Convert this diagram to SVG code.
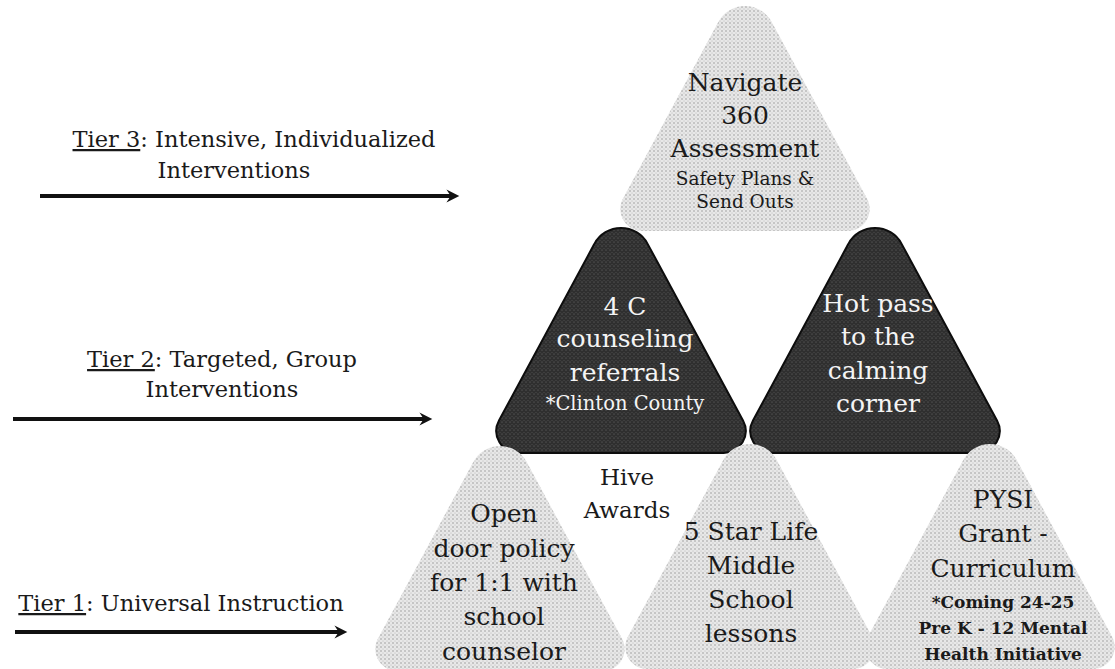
<svg xmlns="http://www.w3.org/2000/svg" width="1115" height="669" viewBox="0 0 1115 669">
  <defs>
    <!-- stippled light fill -->
    <pattern id="stipple" width="4" height="4" patternUnits="userSpaceOnUse">
      <rect width="4" height="4" fill="#e8e8e8"/>
      <circle cx="1" cy="1" r="0.7" fill="#8a8a8a"/>
      <circle cx="3" cy="3" r="0.55" fill="#b4b4b4"/>
    </pattern>
    <!-- speckled dark fill -->
    <pattern id="speckle" width="4" height="4" patternUnits="userSpaceOnUse">
      <rect width="4" height="4" fill="#2f2f2f"/>
      <circle cx="1" cy="2" r="0.6" fill="#6e6e6e"/>
      <circle cx="3" cy="0.5" r="0.5" fill="#555"/>
    </pattern>
    <!-- rounded triangle, apex at origin, base at y=225 -->
    <path id="tri" d="M -26.6,15.85 A 30.2 30.2 0 0 1 26.6,15.85 L 122,192.5 A 22 22 0 0 1 102.6,225 L -102.6,225 A 22 22 0 0 1 -122,192.5 Z"/>
    <marker id="head" viewBox="0 0 14 14" refX="9" refY="7" markerWidth="15" markerHeight="15" markerUnits="userSpaceOnUse" orient="auto">
      <path d="M 1,1 L 13,7 L 1,13 L 5,7 Z" fill="#111"/>
    </marker>
    <style>
      .light { fill: url(#stipple); }
      .dark { fill: url(#speckle); stroke: #0d0d0d; stroke-width: 2; }
      text { font-family: "DejaVu Serif", "Liberation Serif", serif; text-anchor: middle; }
      .big { font-size: 25px; fill: #1a1a1a; }
      .wbig { font-size: 25px; fill: #f4f4f4; }
      .small { font-size: 18.5px; fill: #1a1a1a; }
      .wsmall { font-size: 19.5px; fill: #f4f4f4; }
      .bsmall { font-size: 17px; font-weight: bold; fill: #1a1a1a; }
      .tier { font-size: 22.5px; fill: #1a1a1a; }
      .arrow { stroke: #111; stroke-width: 4; fill: none; marker-end: url(#head); }
    </style>
  </defs>

  <rect width="1115" height="669" fill="#ffffff"/>

  <!-- tier labels and arrows -->
  <g id="connectors">
    <line class="arrow" x1="40" y1="196" x2="455" y2="196"/>
    <line class="arrow" x1="13" y1="419" x2="428" y2="419"/>
    <line class="arrow" x1="15" y1="632" x2="343" y2="632"/>
  </g>

  <g id="tier3">
    <text class="tier" x="254" y="147"><tspan text-decoration="underline">Tier 3</tspan>: Intensive, Individualized</text>
    <text class="tier" x="234" y="178">Interventions</text>
  </g>
  <g id="tier2">
    <text class="tier" x="222" y="367"><tspan text-decoration="underline">Tier 2</tspan>: Targeted, Group</text>
    <text class="tier" x="222" y="397">Interventions</text>
  </g>
  <g id="tier1">
    <text class="tier" x="181" y="611"><tspan text-decoration="underline">Tier 1</tspan>: Universal Instruction</text>
  </g>

  <!-- top: tier 3 -->
  <g id="navigate">
    <use href="#tri" class="light" transform="translate(745,6)"/>
    <text class="big" x="745" y="91">Navigate</text>
    <text class="big" x="745" y="124">360</text>
    <text class="big" x="745" y="157">Assessment</text>
    <text class="small" x="745" y="185">Safety Plans &amp;</text>
    <text class="small" x="745" y="208">Send Outs</text>
  </g>

  <!-- middle: tier 2 -->
  <g id="counseling">
    <use href="#tri" class="dark" transform="translate(621,228)"/>
    <text class="wbig" x="625" y="315">4 C</text>
    <text class="wbig" x="625" y="347">counseling</text>
    <text class="wbig" x="625" y="381">referrals</text>
    <text class="wsmall" x="625" y="410">*Clinton County</text>
  </g>
  <g id="hotpass">
    <use href="#tri" class="dark" transform="translate(875,228)"/>
    <text class="wbig" x="878" y="312">Hot pass</text>
    <text class="wbig" x="878" y="345">to the</text>
    <text class="wbig" x="878" y="379">calming</text>
    <text class="wbig" x="878" y="412">corner</text>
  </g>

  <!-- bottom: tier 1 -->
  <g id="opendoor">
    <use href="#tri" class="light" transform="translate(500,446)"/>
    <text class="big" x="504" y="522">Open</text>
    <text class="big" x="504" y="557">door policy</text>
    <text class="big" x="504" y="591">for 1:1 with</text>
    <text class="big" x="504" y="625">school</text>
    <text class="big" x="504" y="660">counselor</text>
  </g>
  <g id="hive">
    <text class="big" x="627" y="485" style="font-size:23px">Hive</text>
    <text class="big" x="627" y="518" style="font-size:23px">Awards</text>
  </g>
  <g id="fivestar">
    <use href="#tri" class="light" transform="translate(750,444)"/>
    <text class="big" x="751" y="540">5 Star Life</text>
    <text class="big" x="751" y="574">Middle</text>
    <text class="big" x="751" y="608">School</text>
    <text class="big" x="751" y="642">lessons</text>
  </g>
  <g id="pysi">
    <use href="#tri" class="light" transform="translate(990,444)"/>
    <text class="big" x="1003" y="508">PYSI</text>
    <text class="big" x="1003" y="542">Grant -</text>
    <text class="big" x="1003" y="577">Curriculum</text>
    <text class="bsmall" x="1003" y="608">*Coming 24-25</text>
    <text class="bsmall" x="1003" y="634">Pre K - 12 Mental</text>
    <text class="bsmall" x="1003" y="660">Health Initiative</text>
  </g>
</svg>
